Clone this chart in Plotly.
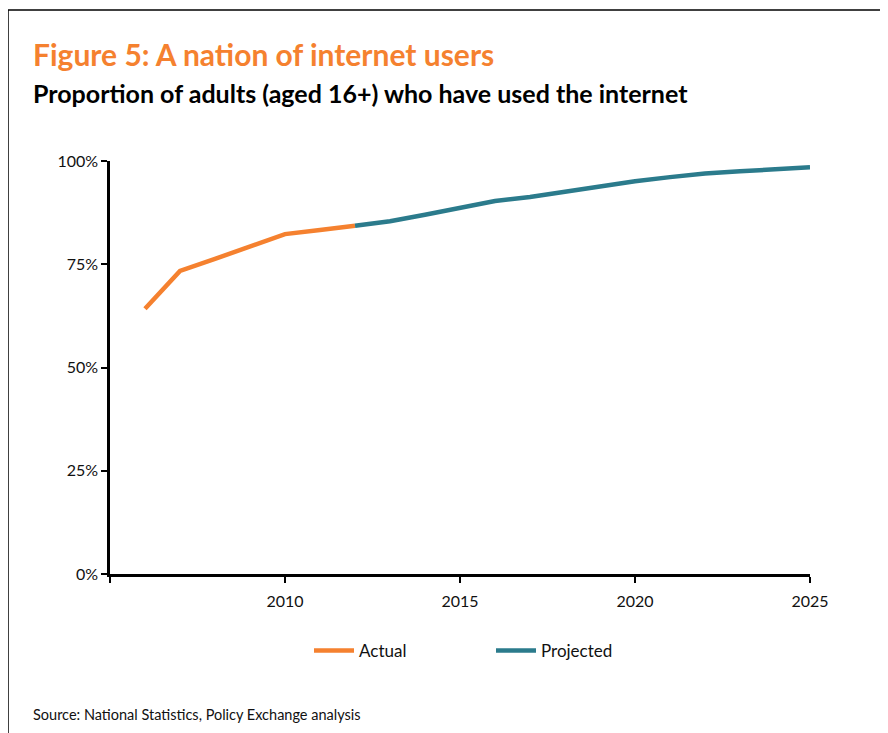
import plotly.graph_objects as go

years_actual = [2006, 2007, 2008, 2009, 2010, 2011, 2012]
actual = [64.2, 73.4, 76.3, 79.3, 82.3, 83.3, 84.3]

years_projected = [2012, 2013, 2014, 2015, 2016, 2017, 2018, 2019, 2020, 2021, 2022, 2023, 2024, 2025]
projected = [84.3, 85.4, 87.0, 88.7, 90.3, 91.3, 92.6, 93.9, 95.1, 96.1, 97.0, 97.5, 97.9, 98.5]

x_tickvals = [2005, 2010, 2015, 2020, 2025]
x_ticktext = ["", "2010", "2015", "2020", "2025"]
y_tickvals = [0, 25, 50, 75, 100]
y_ticktext = ["0%", "25%", "50%", "75%", "100%"]

ORANGE = "#F5812F"
TEAL = "#2B7B8C"
FONT = "Lato"

fig = go.Figure()
fig.add_trace(go.Scatter(x=years_actual, y=actual, mode="lines", name="Actual",
                         line=dict(color=ORANGE, width=4.5)))
fig.add_trace(go.Scatter(x=years_projected, y=projected, mode="lines", name="Projected",
                         line=dict(color=TEAL, width=4.5)))

OFF = 8  # page body margin
W, H = 888, 733
L, R, T, B = 110 - OFF, 810 - OFF, 161 - OFF, 574 - OFF
pw, ph = R - L, B - T

def px_x(p):
    return (p - OFF - L) / pw

def px_y(p):
    return (B - (p - OFF)) / ph

fig.update_layout(
    width=W, height=H,
    margin=dict(l=L, r=W - R, t=T, b=H - B, autoexpand=False),
    paper_bgcolor="white", plot_bgcolor="white",
    font=dict(family=FONT, color="#111111", size=16),
    showlegend=True,
    legend=dict(orientation="h", x=px_x(309), xanchor="left", y=px_y(651), yanchor="middle",
                font=dict(size=17, family=FONT, color="#111111"),
                entrywidth=127, itemwidth=40, traceorder="normal"),
    xaxis=dict(range=[2005, 2025], tickvals=x_tickvals, ticktext=x_ticktext,
               showgrid=False, zeroline=False, showline=True, linecolor="black", linewidth=2.5,
               ticks="outside", ticklen=6, tickwidth=2, tickcolor="black",
               tickfont=dict(size=16, family=FONT, color="#111111")),
    yaxis=dict(range=[0, 100], tickvals=y_tickvals, ticktext=y_ticktext,
               showgrid=False, zeroline=False, showline=True, linecolor="black", linewidth=2.5,
               ticks="outside", ticklen=6, tickwidth=2, tickcolor="black",
               tickfont=dict(size=16, family=FONT, color="#111111")),
    shapes=[
        dict(type="line", xref="paper", yref="paper", x0=px_x(8), x1=px_x(900), y0=px_y(10), y1=px_y(10),
             line=dict(color="black", width=1.5)),
        dict(type="line", xref="paper", yref="paper", x0=px_x(8), x1=px_x(8), y0=px_y(10), y1=px_y(745),
             line=dict(color="black", width=1.5)),
    ],
    annotations=[
        dict(text="<b>Figure 5: A nation of internet users</b>", xref="paper", yref="paper",
             x=px_x(31), y=px_y(54), xanchor="left", yanchor="middle", showarrow=False,
             font=dict(size=30, color=ORANGE, family=FONT)),
        dict(text="<b>Proportion of adults (aged 16+) who have used the internet</b>", xref="paper", yref="paper",
             x=px_x(31), y=px_y(93), xanchor="left", yanchor="middle", showarrow=False,
             font=dict(size=25, color="black", family=FONT)),
        dict(text="Source: National Statistics, Policy Exchange analysis", xref="paper", yref="paper",
             x=px_x(31), y=px_y(714), xanchor="left", yanchor="middle", showarrow=False,
             font=dict(size=14.5, color="#111111", family=FONT)),
    ],
)
fig.update_xaxes(ticklabelstandoff=5)

fig.write_html("out.html")
